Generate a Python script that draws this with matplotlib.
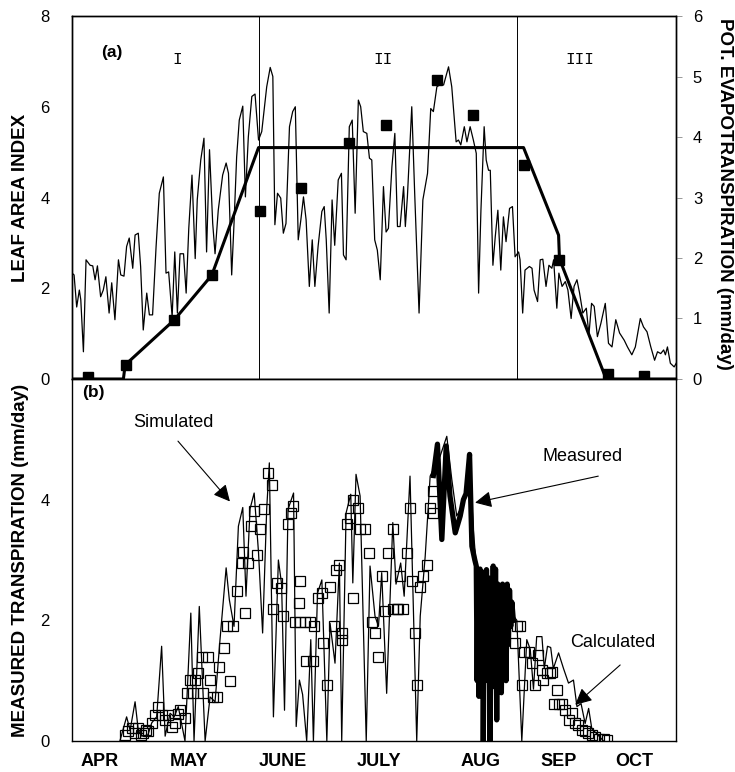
import matplotlib
matplotlib.use("Agg")
import matplotlib.pyplot as plt

plt.rcParams['font.family'] = ['Liberation Sans', 'DejaVu Sans']

# ---------------- data ----------------
# x values are day of year
months = ["APR", "MAY", "JUNE", "JULY", "AUG", "SEP", "OCT"]
month_pos = [104.6, 135.1, 167.1, 200.2, 234.8, 261.7, 287.6]
phase_bounds = [158.9, 247.5]
phase_labels = ["I", "II", "III"]
phase_pos = [131.0, 201.6, 269.1]

# potential evapotranspiration (mm/day), thin line, top panel
pet_day = [95.0, 95.7, 96.6, 97.5, 98.0, 98.9, 99.8, 101.2, 102.1, 102.9, 103.7, 104.8, 105.7, 106.6,
           107.7, 108.6, 109.7, 110.9, 111.7, 112.8, 113.7, 114.6, 115.8, 116.6, 117.7, 118.5, 119.4,
           120.6, 121.5, 122.6, 123.8, 124.9, 126.3, 127.2, 128.1, 129.3, 130.2, 131.1, 132.0, 133.2,
           134.1, 135.0, 136.1, 137.2, 137.9, 139.1, 140.2, 141.1, 142.1, 143.2, 144.0, 145.1, 146.6,
           147.8, 148.6, 149.7, 150.5, 151.4, 152.3, 153.5, 154.4, 155.4, 156.6, 157.7, 158.9, 160.0,
           161.7, 162.9, 163.8,
           164.5, 165.4, 166.5, 167.4, 168.3, 169.5, 170.6, 171.5, 172.5, 173.4, 174.3, 175.2, 176.3,
           177.3, 178.2, 179.3, 180.6, 181.4, 182.1, 183.1, 184.1, 185.0, 186.2, 187.3, 188.0, 188.9,
           190.0, 191.0, 192.0, 193.1, 193.9, 194.8, 196.0, 196.9, 197.7, 198.7, 199.6, 200.6, 201.7,
           202.6, 203.4, 204.6, 205.6, 206.5, 207.4, 208.6, 209.2, 209.9, 211.4, 212.4, 213.9, 215.2,
           216.8, 217.9, 218.8, 220.0, 220.9, 222.3, 224.0, 225.1, 226.6, 227.4, 228.2, 229.4, 230.3,
           231.4, 232.5, 233.5, 234.3,
           235.1, 236.2, 236.9, 237.7, 238.3, 239.2, 240.0, 240.9, 241.9, 242.8, 243.7, 244.9, 245.9,
           246.8, 248.0, 248.5, 249.4, 250.2, 251.7, 252.6, 253.3, 254.5, 255.4, 256.3, 257.4, 258.4,
           259.4, 260.0, 261.1, 261.8, 262.9, 264.0, 264.9, 266.0, 267.0, 268.0, 268.9, 270.0, 271.2,
           272.1, 273.0, 273.9, 275.0, 276.2, 277.7, 278.8, 280.0, 281.3, 282.6, 284.2, 285.3, 286.8,
           288.0, 289.7, 290.8, 292.0, 293.3, 294.6, 295.6, 296.7, 297.7, 298.3, 299.0, 300.0, 301.3,
           302.0]
pet_val = [1.75, 1.72, 1.19, 1.47, 1.31, 0.45, 1.97, 1.88, 1.87, 1.64, 1.87, 1.36, 1.47, 1.69,
           1.09, 1.59, 0.98, 1.97, 1.72, 1.70, 2.19, 2.33, 1.83, 2.38, 2.41, 1.86, 0.81,
           1.42, 1.06, 1.06, 2.19, 3.07, 3.34, 1.75, 1.77, 1.03, 2.10, 1.09, 2.07, 2.07,
           1.42, 2.49, 3.37, 1.99, 2.96, 3.62, 3.98, 2.10, 3.79, 2.57, 2.07, 2.79, 3.37,
           3.57, 3.40, 1.72, 2.57, 3.67, 4.28, 4.51, 3.01, 4.00, 4.67, 4.71, 3.95, 4.09,
           4.83, 5.15, 5.00,
           2.55, 3.07, 2.99, 2.41, 2.57, 4.17, 4.42, 4.50, 2.30, 2.63, 3.01, 2.63, 1.53,
           2.30, 1.53, 2.19, 2.77, 2.85, 2.30, 1.09, 2.96, 2.21, 3.29, 3.40, 2.05, 1.97,
           4.17, 4.28, 2.74, 4.61, 4.50, 4.09, 4.06, 3.65, 3.62, 2.30, 2.13, 1.64, 3.18,
           2.43, 2.49, 3.51, 4.06, 2.52, 2.52, 3.18, 2.52, 3.01, 4.50, 3.07, 1.09, 2.96,
           3.40, 4.47, 4.42, 4.83, 4.86, 4.86, 5.16, 4.83, 3.92, 3.95, 3.87, 4.17, 3.92,
           4.17, 3.95, 3.73, 1.42,
           2.79, 4.17, 3.62, 3.45, 3.45, 1.88, 2.35, 2.79, 1.80, 2.68, 2.27, 2.82, 2.85,
           2.02, 2.10, 1.97, 1.09, 1.80, 1.86, 1.83, 1.47, 1.28, 1.97, 1.98, 1.53, 1.88,
           1.83, 1.97, 1.17, 1.75, 1.53, 1.61, 1.47, 1.00, 1.53, 1.64, 1.42, 1.09, 1.17,
           0.73, 1.25, 1.20, 0.70, 0.92, 1.25, 0.59, 0.53, 0.98, 0.76, 0.64, 0.53, 0.40,
           0.53, 1.00, 0.86, 0.78, 0.53, 0.31, 0.45, 0.42, 0.48, 0.40, 0.53, 0.26, 0.20,
           0.26]

# leaf area index model (thick line) and measured LAI (filled squares)
lai_line_day = [95.0, 112.6, 113.2, 130.0, 142.9, 158.9, 249.7, 261.7, 262.0, 278.0, 302.0]
lai_line_val = [0.0, 0.0, 0.31, 1.30, 2.29, 5.10, 5.10, 3.17, 2.65, 0.0, 0.0]
lai_obs_day = [100.6, 113.5, 130.1, 142.9, 159.4, 173.4, 189.9, 202.5, 220.0, 232.3, 249.7, 261.7, 278.5, 290.8]
lai_obs_val = [0.05, 0.31, 1.31, 2.30, 3.71, 4.20, 5.21, 5.59, 6.60, 5.81, 4.71, 2.62, 0.12, 0.07]

# simulated transpiration (thin line, bottom panel)
sim_day = [111.4, 113.7, 114.9, 116.6, 117.7, 118.9, 121.0, 122.3, 124.0, 125.7, 126.9, 128.6, 130.0,
           131.4, 133.7, 135.7, 136.8, 138.6, 140.6, 142.3, 144.0, 145.7, 147.8, 148.9, 150.5, 152.0,
           153.5, 154.6, 156.0, 157.4, 158.9, 160.3, 161.7, 162.6, 164.0, 165.7, 166.8, 167.8, 169.0,
           170.9, 171.8, 172.9, 174.0, 175.4, 176.8, 177.7, 179.1, 180.6, 182.3, 183.4, 185.1, 186.6,
           187.4, 188.9, 190.5, 191.2, 192.3, 193.7, 195.8, 197.1, 198.8, 200.0, 201.1, 202.8, 204.9,
           206.0, 207.6, 208.8, 210.8, 213.1, 214.3, 216.0, 217.7, 219.4, 221.1, 223.4, 225.1, 226.8,
           228.0, 229.7, 231.4, 232.5, 233.5, 235.0, 237.0, 239.0, 241.0, 243.0, 245.0, 246.3, 247.4,
           249.1, 250.8, 252.0, 253.1, 254.2, 256.0, 256.8, 257.9, 259.0, 259.9, 261.7, 263.4, 265.1,
           266.8, 268.0, 269.4, 270.8, 272.0, 273.1, 274.8, 277.1]
sim_val = [0.0, 0.40, 0.18, 0.65, 0.18, 0.08, 0.10, 0.30, 0.40, 1.57, 0.08, 0.46, 0.40,
           0.57, 0.0, 2.12, 0.0, 2.23, 0.0, 0.73, 0.65, 1.68, 2.87, 2.34, 1.90, 3.56,
           3.87, 2.40, 3.85, 4.11, 3.12, 1.79, 3.85, 4.61, 0.40, 3.00, 2.60, 0.51, 3.84,
           4.11, 0.24, 1.01, 0.77, 0.0, 1.68, 0.0, 2.45, 2.67, 0.0, 1.95, 1.29, 2.95,
           0.0, 3.78, 4.09, 2.62, 4.42, 4.06, 0.0, 2.90, 2.07, 1.90, 2.79, 0.79, 3.62,
           2.60, 2.95, 2.40, 4.39, 0.0, 2.07, 3.06, 4.39, 4.56, 4.72, 5.05, 4.34, 3.73,
           3.84, 4.06, 4.50, 3.50, 2.90, 2.60, 2.40, 2.50, 2.30, 2.40, 2.20, 2.07, 2.00,
           0.0, 1.68, 1.52, 0.86, 1.73, 1.73, 1.20, 1.57, 1.55, 1.20, 1.46, 1.20, 0.96,
           1.01, 0.57, 0.62, 0.29, 0.54, 0.20, 0.12, 0.0]

# measured transpiration (thick line, August)
meas_day = [218.8, 220.2, 221.7, 223.2, 224.5, 226.3, 228.0, 229.1, 230.0, 231.2, 232.0, 233.0, 233.5,
            233.8, 234.1, 234.4, 234.8, 235.2, 235.6, 235.9, 236.3, 236.7, 237.0, 237.4, 237.8, 238.2,
            238.6, 239.0, 239.3, 239.7, 240.1, 240.5, 240.9, 241.3, 241.7, 242.1, 242.5, 242.9, 243.3,
            243.7, 244.1, 244.5, 244.9, 245.3, 245.7, 246.2]
meas_val = [4.40, 4.92, 3.34, 4.89, 4.06, 3.45, 3.73, 4.00, 4.10, 4.75, 3.23, 3.00, 2.90,
            1.00, 2.70, 0.74, 2.85, 1.40, 2.80, 0.0, 2.60, 1.20, 2.84, 1.00, 2.70, 0.0,
            2.30, 1.30, 2.90, 0.90, 2.85, 0.35, 2.60, 1.50, 2.50, 0.80, 2.60, 1.30, 2.50,
            1.00, 2.60, 1.60, 2.50, 1.90, 2.30, 2.00]

# calculated transpiration (open squares)
calc_day = [113.2, 114.3, 115.4, 116.6, 117.7, 118.5, 119.4, 120.3, 121.2, 122.3, 123.4, 124.6, 125.7,
            126.9, 128.0, 129.2, 130.3, 131.2, 132.0, 133.7, 134.3, 135.4, 136.6, 137.1, 138.3, 139.4,
            140.0, 141.7, 142.3, 143.4, 144.6, 145.5, 146.9, 148.0, 149.1, 150.3, 151.4, 153.1, 153.5,
            154.3, 155.4, 156.2, 157.4, 158.3, 159.4, 160.8, 162.3, 163.4,
            164.0, 165.1, 166.5, 167.2, 169.1, 169.9, 170.8, 171.4, 172.6, 173.1, 173.1, 174.9, 175.2,
            176.6, 177.7, 177.9, 179.4, 180.6, 181.1, 182.3, 183.4, 184.6, 185.5, 186.3, 187.4, 187.6,
            189.1, 190.3, 191.2, 191.4, 193.1, 193.7, 195.4, 196.6, 197.7, 198.8, 200.0, 201.1, 202.3,
            203.4, 204.9, 205.1, 206.3, 206.8, 207.4, 208.5, 209.7, 210.8, 211.4, 212.5, 213.1, 214.3,
            215.4, 216.5, 217.7, 218.6, 218.8,
            246.8, 247.4, 248.5, 249.1, 249.7, 251.4, 252.5, 253.7, 254.8, 256.0, 256.5, 257.7, 258.8,
            259.4, 260.0, 261.1, 261.7, 262.8, 263.9, 265.1, 266.2, 267.4, 268.5, 269.7, 270.8, 271.9,
            273.1, 274.2, 275.4, 277.1, 278.2]
calc_val = [0.10, 0.16, 0.21, 0.13, 0.21, 0.10, 0.13, 0.18, 0.16, 0.30, 0.43, 0.57, 0.43,
            0.35, 0.43, 0.24, 0.30, 0.45, 0.51, 0.38, 0.79, 1.01, 0.79, 1.01, 1.12, 1.40,
            0.79, 1.40, 1.01, 0.73, 0.73, 1.23, 1.54, 1.90, 0.99, 1.90, 2.48, 2.95, 3.14,
            2.12, 2.95, 3.56, 3.81, 3.09, 3.51, 3.84, 4.44, 4.25,
            2.18, 2.62, 2.54, 2.07, 3.59, 3.78, 3.89, 1.98, 2.29, 2.65, 1.98, 1.98, 1.32,
            1.98, 1.32, 1.90, 2.37, 2.45, 1.62, 0.92, 2.56, 1.90, 2.84, 2.92, 1.79, 1.68,
            3.59, 3.70, 2.37, 4.00, 3.87, 3.51, 3.51, 3.12, 1.98, 1.79, 1.40, 2.73, 2.15,
            3.12, 3.51, 2.18, 2.18, 2.18, 2.73, 2.18, 3.12, 3.87, 2.65, 1.79, 0.92, 2.56,
            2.73, 2.92, 3.87, 4.15, 3.78,
            1.62, 1.90, 1.90, 0.93, 1.48, 1.48, 1.29, 0.93, 1.43, 1.18, 1.01, 1.12, 1.12,
            1.15, 0.62, 0.85, 0.62, 0.62, 0.51, 0.35, 0.46, 0.29, 0.27, 0.18, 0.16, 0.13,
            0.10, 0.07, 0.04, 0.04, 0.02]

# ---------------- figure ----------------
fig = plt.figure(figsize=(7.35, 7.72), dpi=100)
ax_t = fig.add_axes([0.098, 0.50907, 0.822, 0.4702])
ax_b = fig.add_axes([0.098, 0.04016, 0.822, 0.46891])
ax_r = ax_t.twinx()

xlim = (95.0, 302.0)
tick_fs = 12
lab_fs = 13.5

# top panel: LAI
ax_t.plot(lai_line_day, lai_line_val, color='black', lw=2.2, zorder=3)
ax_t.plot(lai_obs_day, lai_obs_val, 's', color='black', ms=7.5, zorder=4)
for b in phase_bounds:
    ax_t.axvline(b, color='black', lw=0.7, zorder=1)
ax_t.set_xlim(*xlim)
ax_t.set_ylim(0, 8)
ax_t.set_yticks([0, 2, 4, 6, 8])
ax_t.tick_params(axis='y', length=0, pad=16, labelsize=tick_fs)
ax_t.set_xticks([])
ax_t.set_ylabel("LEAF AREA INDEX", fontsize=lab_fs, fontweight='bold')
ax_t.yaxis.set_label_coords(-0.071, 0.5)
for lbl, p in zip(phase_labels, phase_pos):
    ax_t.text(p, 7.05, lbl, family='Liberation Mono', fontsize=11.5, ha='center', va='center')
ax_t.text(108.7, 7.2, "(a)", fontsize=12.5, fontweight='bold', ha='center', va='center')

# top panel: PET (right axis)
ax_r.plot(pet_day, pet_val, color='black', lw=0.9, zorder=2)
ax_r.set_xlim(*xlim)
ax_r.set_ylim(0, 6)
ax_r.set_yticks([0, 1, 2, 3, 4, 5, 6])
ax_r.tick_params(axis='y', length=4, width=0.6, color='#888888', pad=8, labelsize=tick_fs)
fig.text(725 / 735, 1 - 194 / 772, "POT. EVAPOTRANSPIRATION (mm/day)", rotation=-90,
         fontsize=lab_fs, fontweight='bold', ha='center', va='center')

# bottom panel: transpiration
ax_b.plot(sim_day, sim_val, color='black', lw=0.9, zorder=2)
ax_b.plot(meas_day, meas_val, color='black', lw=3.8, zorder=3, solid_joinstyle='round')
ax_b.plot(calc_day, calc_val, 's', mfc='none', mec='black', mew=0.9, ms=7, zorder=4)
ax_b.set_xlim(*xlim)
ax_b.set_ylim(0, 6)
ax_b.set_yticks([0, 2, 4])
ax_b.tick_params(axis='y', length=0, pad=16, labelsize=tick_fs)
ax_b.set_xticks(month_pos)
ax_b.set_xticklabels(months, fontweight='bold', fontsize=13)
ax_b.tick_params(axis='x', length=0, pad=9)
ax_b.set_ylabel("MEASURED TRANSPIRATION (mm/day)", fontsize=lab_fs, fontweight='bold')
ax_b.yaxis.set_label_coords(-0.071, 0.5)
ax_b.text(102.2, 5.78, "(b)", fontsize=12.5, fontweight='bold', ha='center', va='center')

arrow = dict(arrowstyle='-|>', color='black', lw=0.8, mutation_scale=25, shrinkA=0, shrinkB=0)
ax_b.annotate("", xy=(149.1, 3.97), xytext=(131.3, 4.97), arrowprops=arrow)
ax_b.text(129.6, 5.28, "Simulated", fontsize=13, ha='center', va='center')
ax_b.annotate("", xy=(233.1, 3.95), xytext=(275.3, 4.39), arrowprops=arrow)
ax_b.text(269.8, 4.72, "Measured", fontsize=13, ha='center', va='center')
ax_b.annotate("", xy=(267.4, 0.60), xytext=(282.8, 1.26), arrowprops=arrow)
ax_b.text(280.4, 1.64, "Calculated", fontsize=13, ha='center', va='center')

for a in (ax_t, ax_r, ax_b):
    for s in a.spines.values():
        s.set_linewidth(1.0)

fig.savefig("out.png", dpi=100)
